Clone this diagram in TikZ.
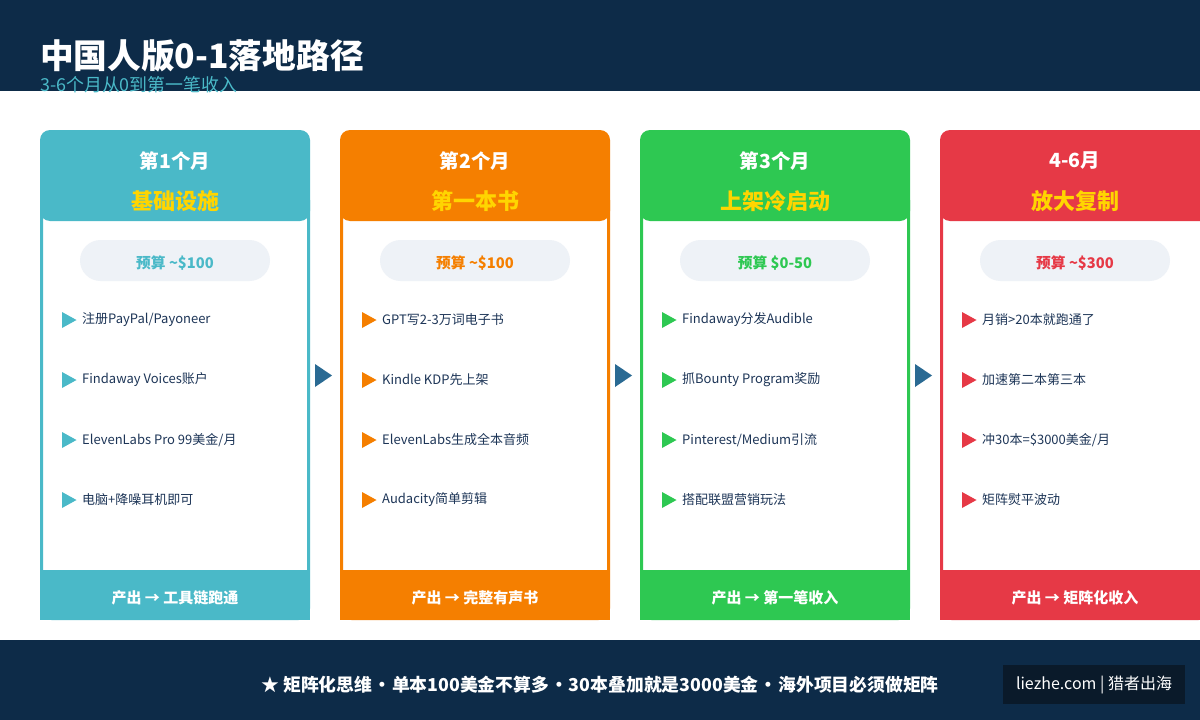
\documentclass[tikz,border=0pt]{standalone}
\usepackage{fontspec}
\setmainfont{Noto Sans CJK SC}
\definecolor{navy}{HTML}{0D2B48}
\definecolor{cteal}{HTML}{4AB9C8}
\definecolor{corng}{HTML}{F57F00}
\definecolor{cgrn}{HTML}{2EC852}
\definecolor{cred}{HTML}{E63946}
\definecolor{gold}{HTML}{FFD500}
\definecolor{pill}{HTML}{EEF2F7}
\definecolor{ink}{HTML}{1D3557}
\definecolor{arr}{HTML}{2A6A93}
\definecolor{logobg}{HTML}{0A1A2A}
\tikzset{
  fs/.style={font=\fontsize{#1}{#1}\selectfont},
  bfs/.style={font=\fontsize{#1}{#1}\selectfont\bfseries},
  bulltxt/.style={fs=13, text=ink, anchor=west, inner sep=0pt},
}
\newcommand\sep{\kern1pt·\kern1pt}
% #1 prefix, #2 x-left, #3 colour, #4 t1, #5 t2, #6 budget, #7 footer
\newcommand\drawcard[7]{%
  \begin{scope}[xshift=#2pt]
    \draw[#3, line width=3pt, rounded corners=10pt] (1.5,200) -- (1.5,618.5) -- (268.5,618.5) -- (268.5,200);
    \fill[#3, rounded corners=10pt] (0,130) rectangle (270,221);
    \fill[#3] (0,570) rectangle (270,620);
    \node[bfs=19.5, text=white] (#1t) at (135,161) {#4};
    \node[bfs=22, text=gold] (#1s) at (135,201) {#5};
    \node[fill=pill, rounded corners=20.5pt, minimum width=190pt, minimum height=41pt, inner sep=0pt] (#1p) at (135,260.5) {};
    \node[bfs=14.7, text=#3] (#1b) at (135,263) {#6};
    \node[bfs=15, text=white] (#1f) at (135,598) {#7};
  \end{scope}}
% #1 name, #2 x of triangle, #3 y, #4 colour, #5 text
\newcommand\bul[5]{%
  \fill[#4] (#2,#3-8) -- (#2+14.5,#3) -- (#2,#3+8) -- cycle;
  \node[bulltxt] (#1) at (#2+20,#3) {#5};}
\begin{document}
\begin{tikzpicture}[x=1pt,y=-1pt]
  \clip (0,0) rectangle (1200,720);
  \fill[white] (0,0) rectangle (1200,720);
  % header
  \fill[navy] (0,0) rectangle (1200,91);
  \node[bfs=33.7, text=white, anchor=base west, inner sep=0pt] (title) at (40,68.5) {中国人版0-1落地路径};
  \node[fs=17.9, text=cteal, anchor=base west, inner sep=0pt] (sub) at (40,91) {3-6个月从0到第一笔收入};
  % cards
  \drawcard{a}{40}{cteal}{第1个月}{基础设施}{预算 \textasciitilde\$100}{产出 → 工具链跑通}
  \drawcard{b}{340}{corng}{第2个月}{第一本书}{预算 \textasciitilde\$100}{产出 → 完整有声书}
  \drawcard{c}{640}{cgrn}{第3个月}{上架冷启动}{预算 \$0-50}{产出 → 第一笔收入}
  \drawcard{d}{940}{cred}{4-6月}{放大复制}{预算 \textasciitilde\$300}{产出 → 矩阵化收入}
  % bullets
  \bul{a1}{62}{320}{cteal}{注册PayPal/Payoneer}
  \bul{a2}{62}{380}{cteal}{Findaway Voices账户}
  \bul{a3}{62}{440}{cteal}{ElevenLabs Pro 99美金/月}
  \bul{a4}{62}{500}{cteal}{电脑+降噪耳机即可}
  \bul{b1}{362}{320}{corng}{GPT写2-3万词电子书}
  \bul{b2}{362}{380}{corng}{Kindle KDP先上架}
  \bul{b3}{362}{440}{corng}{ElevenLabs生成全本音频}
  \bul{b4}{362}{500}{corng}{Audacity简单剪辑}
  \bul{c1}{662}{320}{cgrn}{Findaway分发Audible}
  \bul{c2}{662}{380}{cgrn}{抓Bounty Program奖励}
  \bul{c3}{662}{440}{cgrn}{Pinterest/Medium引流}
  \bul{c4}{662}{500}{cgrn}{搭配联盟营销玩法}
  \bul{d1}{962}{320}{cred}{月销>20本就跑通了}
  \bul{d2}{962}{380}{cred}{加速第二本第三本}
  \bul{d3}{962}{440}{cred}{冲30本=\$3000美金/月}
  \bul{d4}{962}{500}{cred}{矩阵熨平波动}
  % arrows between cards
  \foreach \x in {315,615,915} {
    \fill[arr] (\x,364) -- (\x+17,375.5) -- (\x,387) -- cycle;
  }
  % footer
  \fill[navy] (0,640) rectangle (1200,720);
  \node[bfs=17.8, text=white] (foot) at (600,685) {★ 矩阵化思维\sep 单本100美金不算多\sep 30本叠加就是3000美金\sep 海外项目必须做矩阵};
  \node[fill=logobg, minimum width=182pt, minimum height=39pt, inner sep=0pt] (logo) at (1094,684.5) {};
  \node[fs=16, text=white] (logotxt) at (1094,685) {liezhe.com | 猎者出海};
\end{tikzpicture}
\end{document}
